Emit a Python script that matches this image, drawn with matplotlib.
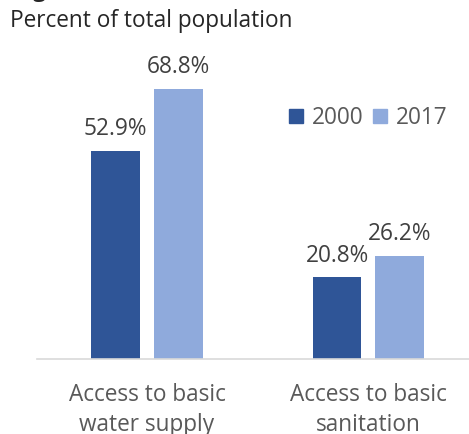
import numpy as np
import matplotlib
matplotlib.use('Agg')
import matplotlib.pyplot as plt
from matplotlib.patches import Patch

# data
categories = ['Access to basic\nwater supply', 'Access to basic\nsanitation']
years = ['2000', '2017']
values_2000 = [52.9, 20.8]
values_2017 = [68.8, 26.2]

dark = '#2F5597'
light = '#8FAADC'
txt = '#595959'

plt.rcParams['font.family'] = ['Open Sans', 'DejaVu Sans']

fig = plt.figure(figsize=(4.69, 4.34), dpi=100)
ax = fig.add_axes([37 / 469, 75 / 434, 432 / 469, 300 / 434])

x = np.arange(len(categories))
w = 0.221
off = 0.142
b1 = ax.bar(x - off, values_2000, w, color=dark, label=years[0])
b2 = ax.bar(x + off, values_2017, w, color=light, label=years[1])

for bars in (b1, b2):
    for b in bars:
        ax.annotate(f'{b.get_height():.1f}%', (b.get_x() + b.get_width() / 2, b.get_height()),
                    xytext=(0, 7), textcoords='offset points', ha='center', va='bottom',
                    fontsize=16.3, color='#404040')

ax.set_xlim(-0.497, 1.454)
ax.set_ylim(0, 300 / 3.93)
ax.set_yticks([])
ax.set_xticks(x)
ax.set_xticklabels(categories, fontsize=16.3, color=txt, linespacing=1.38)
ax.tick_params(axis='x', length=0, pad=17)
for s in ['top', 'right', 'left']:
    ax.spines[s].set_visible(False)
ax.spines['bottom'].set_color('#D9D9D9')
ax.spines['bottom'].set_linewidth(1.2)

handles = [Patch(color=dark), Patch(color=light)]
ax.legend(handles, years, loc='upper left', bbox_to_anchor=(252 / 432, 1 - (106 - 59) / 300),
          ncol=2, frameon=False, fontsize=16.3, labelcolor=txt,
          handlelength=0.6, handleheight=0.6, handletextpad=0.4, columnspacing=0.45,
          borderpad=0, borderaxespad=0)

# title (cut off at the top in the original)
fig.text(14 / 469, 1 + 3 / 434, 'Fig', fontsize=16, fontweight='bold', color='#262626',
         ha='left', va='baseline')
fig.text(10 / 469, 1 - 21 / 434, 'Percent of total population', fontsize=16.3, color='#262626',
         ha='left', va='center')

fig.savefig('out.png', dpi=100)
